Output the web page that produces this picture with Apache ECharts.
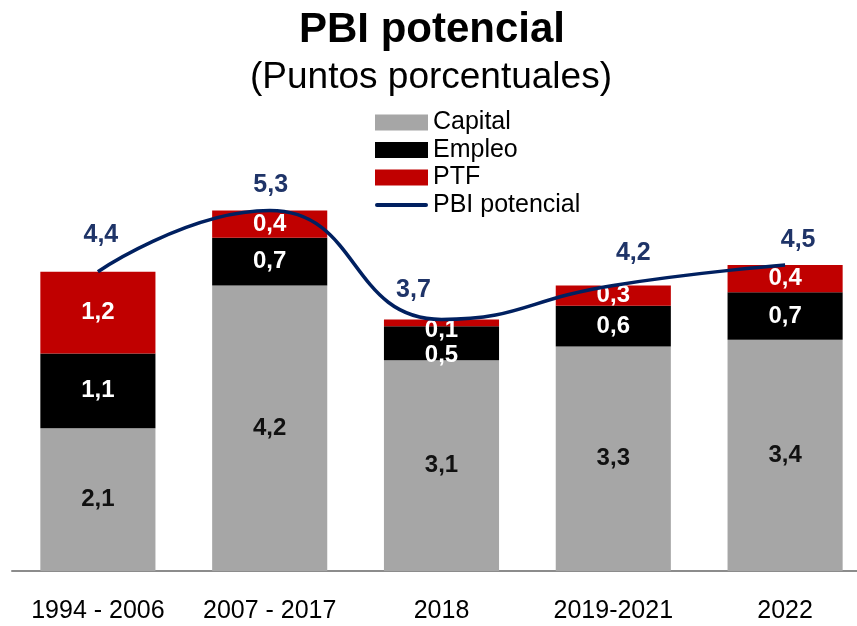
<!DOCTYPE html>
<html>
<head>
    <meta http-equiv="Content-Type" content="text/html; charset=UTF-8">
    <title>PBI potencial</title>
    <script type="text/javascript" src="https://cdn.jsdelivr.net/npm/echarts@6/dist/echarts.min.js"></script>
    <style>
        body { margin: 0; background: #fff; overflow: hidden; }
    </style>
</head>
<body>
<!-- un poco mas ancho que la ventana: la ultima barra llega al borde -->
<div id="main" style="width: 875px;height:626px;"></div>
<script type="text/javascript">
    // datos
    var periodos = ['1994 - 2006', '2007 - 2017', '2018', '2019-2021', '2022'];
    var capital = [2.1, 4.2, 3.1, 3.3, 3.4];
    var empleo = [1.1, 0.7, 0.5, 0.6, 0.7];
    var ptf = [1.2, 0.4, 0.1, 0.3, 0.4];
    var pbiPotencial = [4.4, 5.3, 3.7, 4.2, 4.5];

    // desplazamiento de etiquetas (px) respecto al punto
    var offsetLinea = [[3, -37], [1, -25], [-28, -29], [20, -32], [13, -25]];
    var offsetEmpleo = [[0, 0], [0, 0], [0, 12], [0, 0], [0, 0]];
    var offsetPtf = [[0, 0], [0, 0], [0, 8], [0, 0], [0, 0]];

    var fuente = 'Liberation Sans, Arial, sans-serif';

    function coma(p) {
        return Number(p.value).toFixed(1).replace('.', ',');
    }

    function conOffset(datos, offs) {
        return datos.map(function (v, i) {
            return { value: v, label: { offset: offs[i] } };
        });
    }

    var myChart = echarts.init(document.getElementById('main'));

    function barra(nombre, datos, color, colorTexto) {
        return {
            name: nombre,
            type: 'bar',
            stack: 'total',
            data: datos,
            barCategoryGap: '33%',
            itemStyle: { color: color },
            label: {
                show: true,
                position: 'inside',
                formatter: coma,
                color: colorTexto,
                fontFamily: fuente,
                fontWeight: 'bold',
                fontSize: 24
            }
        };
    }

    myChart.setOption({
        animation: false,
        title: [{
            text: 'PBI potencial',
            left: 427,
            textAlign: 'center',
            top: 4,
            textStyle: { fontFamily: fuente, fontWeight: 'bold', fontSize: 42, color: '#000' }
        }, {
            text: '(Puntos porcentuales)',
            left: 426,
            textAlign: 'center',
            top: 54,
            textStyle: { fontFamily: fuente, fontWeight: 'normal', fontSize: 37, color: '#000' }
        }],
        legend: {
            orient: 'vertical',
            left: 370,
            top: 105,
            itemWidth: 53,
            itemHeight: 16,
            itemGap: 2.5,
            symbolKeepAspect: true,
            textStyle: { fontFamily: fuente, fontSize: 25, color: '#000', lineHeight: 24 },
            data: [
                { name: 'Capital', icon: 'rect' },
                { name: 'Empleo', icon: 'rect' },
                { name: 'PTF', icon: 'rect' },
                { name: 'PBI potencial', icon: 'path://M2,0 L51,0 A2,2 0 0 1 51,4 L2,4 A2,2 0 0 1 2,0 Z' }
            ]
        },
        grid: {
            left: 12,
            top: 163,
            width: 859,
            height: 408
        },
        xAxis: {
            type: 'category',
            data: periodos,
            axisLine: { lineStyle: { color: '#8c8c8c', width: 2 } },
            axisTick: { show: false },
            axisLabel: {
                interval: 0,
                margin: 28,
                fontFamily: fuente,
                fontSize: 25,
                color: '#000'
            }
        },
        yAxis: {
            type: 'value',
            min: 0,
            max: 6,
            show: false,
            splitLine: { show: false }
        },
        series: [
            barra('Capital', capital, '#a6a6a6', '#111'),
            barra('Empleo', conOffset(empleo, offsetEmpleo), '#000000', '#fff'),
            barra('PTF', conOffset(ptf, offsetPtf), '#c00000', '#fff'),
            {
                name: 'PBI potencial',
                type: 'line',
                data: pbiPotencial,
                smooth: true,
                symbol: 'none',
                lineStyle: { color: '#002060', width: 3.5 },
                itemStyle: { color: '#002060' },
                z: 5
            },
            {
                // solo etiquetas de la linea
                name: 'etiquetas',
                type: 'scatter',
                data: conOffset(pbiPotencial, offsetLinea),
                symbolSize: 2,
                itemStyle: { color: 'transparent', opacity: 1 },
                label: {
                    show: true,
                    position: 'inside',
                    formatter: coma,
                    color: '#1f3468',
                    opacity: 1,
                    fontFamily: fuente,
                    fontWeight: 'bold',
                    fontSize: 25
                },
                z: 6
            }
        ]
    });
</script>
</body>
</html>
